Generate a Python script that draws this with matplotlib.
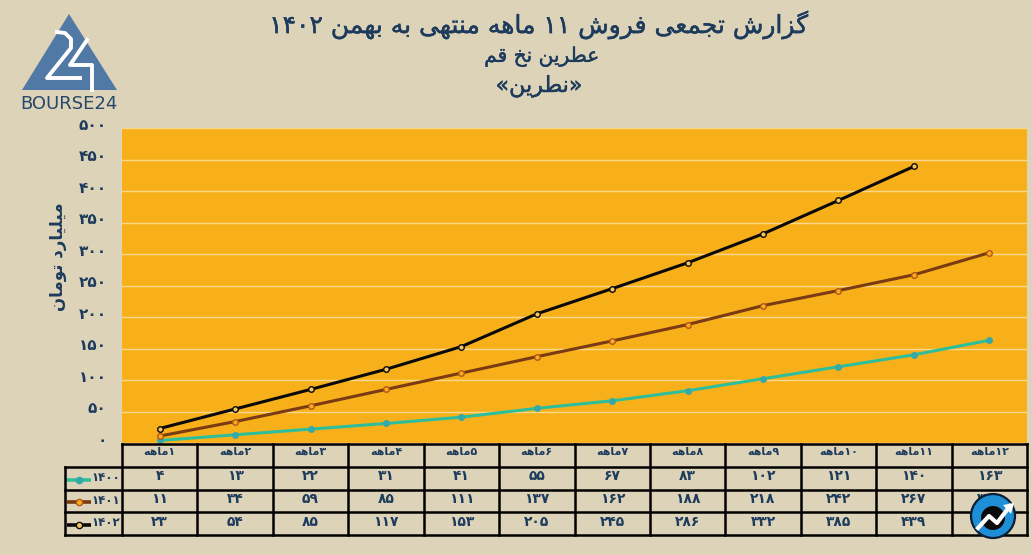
import matplotlib

matplotlib.use('Agg')
import matplotlib.pyplot as plt
import matplotlib.patheffects as pe
from matplotlib.patches import Circle, Polygon
from matplotlib.transforms import ScaledTranslation

months = list(range(1, 13))
sales_1400 = [4, 13, 22, 31, 41, 55, 67, 83, 102, 121, 140, 163]
sales_1401 = [11, 34, 59, 85, 111, 137, 162, 188, 218, 242, 267, 302]
sales_1402 = [23, 54, 85, 117, 153, 205, 245, 286, 332, 385, 439]
y_ticks = [0, 50, 100, 150, 200, 250, 300, 350, 400, 450, 500]
series_names = ['1400', '1401', '1402']

title_text = 'گزارش تجمعی فروش ۱۱ ماهه منتهی به بهمن ۱۴۰۲'
sub_text = 'عطرین نخ قم'
name_text = '«نطرین»'
ylabel_text = 'میلیارد تومان'
month_word = 'ماهه'

BG = '#DDD3B8'
ORANGE = '#F8B01A'
NAVY = '#1D3B5C'

# matplotlib has no arabic shaping, so map letters to presentation forms
FORMS = {
    'ا': (0xFE8D, 0xFE8E), 'د': (0xFEA9, 0xFEAA), 'ر': (0xFEAD, 0xFEAE),
    'ز': (0xFEAF, 0xFEB0), 'و': (0xFEED, 0xFEEE),
    'ب': (0xFE8F, 0xFE90, 0xFE91, 0xFE92), 'ت': (0xFE95, 0xFE96, 0xFE97, 0xFE98),
    'ج': (0xFE9D, 0xFE9E, 0xFE9F, 0xFEA0), 'خ': (0xFEA5, 0xFEA6, 0xFEA7, 0xFEA8),
    'ش': (0xFEB5, 0xFEB6, 0xFEB7, 0xFEB8), 'ط': (0xFEC1, 0xFEC2, 0xFEC3, 0xFEC4),
    'ع': (0xFEC9, 0xFECA, 0xFECB, 0xFECC), 'ف': (0xFED1, 0xFED2, 0xFED3, 0xFED4),
    'ق': (0xFED5, 0xFED6, 0xFED7, 0xFED8), 'گ': (0xFB92, 0xFB93, 0xFB94, 0xFB95),
    'ل': (0xFEDD, 0xFEDE, 0xFEDF, 0xFEE0), 'م': (0xFEE1, 0xFEE2, 0xFEE3, 0xFEE4),
    'ن': (0xFEE5, 0xFEE6, 0xFEE7, 0xFEE8), 'ه': (0xFEE9, 0xFEEA, 0xFEEB, 0xFEEC),
    'ی': (0xFBFC, 0xFBFD, 0xFBFE, 0xFBFF),
}
DIGITS = '۰۱۲۳۴۵۶۷۸۹'


def fa_num(n):
    return ''.join(DIGITS[int(d)] for d in str(n))


def fa(text):
    """Join letters and put the string in visual order (digit runs stay LTR)."""
    out = []
    for i, ch in enumerate(text):
        if ch not in FORMS:
            out.append(ch)
            continue
        prev = text[i - 1] if i else ''
        nxt = text[i + 1] if i + 1 < len(text) else ''
        from_prev = prev in FORMS and len(FORMS[prev]) == 4
        to_next = nxt in FORMS and len(FORMS[ch]) == 4
        f = FORMS[ch]
        if from_prev and to_next:
            out.append(chr(f[3]))
        elif from_prev:
            out.append(chr(f[1]))
        elif to_next:
            out.append(chr(f[2]))
        else:
            out.append(chr(f[0]))
    res, run = [], []
    for ch in out:
        if ch in DIGITS:
            run.append(ch)
        else:
            res = run + res if run else res
            run = []
            res.insert(0, ch)
    return ''.join(run + res)


plt.rcParams['font.family'] = ['DejaVu Sans']
W, H = 1032, 555
fig = plt.figure(figsize=(W / 100, H / 100), dpi=100, facecolor=BG)


def px_axes(x0, y0, x1, y1):
    return fig.add_axes([x0 / W, 1 - y1 / H, (x1 - x0) / W, (y1 - y0) / H])


# main chart
ax = px_axes(122, 128, 1027, 443)
ax.set_facecolor(ORANGE)
ax.set_xlim(0.5, 12.5)
ax.set_ylim(0, 498)
ax.set_xticks([])
ax.set_yticks(y_ticks)
ax.set_yticklabels([fa_num(v) for v in y_ticks], fontsize=11, fontweight='bold', color=NAVY)
ax.tick_params(axis='y', length=0, pad=11)
for lab in ax.get_yticklabels():
    lab.set_transform(lab.get_transform() + ScaledTranslation(0, 3 / 72, fig.dpi_scale_trans))
ax.grid(axis='y', color='#FAD98F', lw=1)
ax.set_axisbelow(True)
for s in ax.spines.values():
    s.set_visible(False)

styles = [
    ('#2DBE9B', '#35A8A8', '#35A8A8'),
    ('#7A3A12', ORANGE, '#B5541A'),
    ('#0A0A0A', '#F4C55A', '#0A0A0A'),
]
for vals, (c, mf, me) in zip([sales_1400, sales_1401, sales_1402], styles):
    ax.plot(months[:len(vals)], vals, color=c, lw=2.2, marker='o', ms=4,
            mfc=mf, mec=me, mew=1, clip_on=False, solid_capstyle='round')

# table under the chart, first column holds the legend keys
row_edges = [443.5, 467, 490, 512, 535]
col_w = (1027 - 122) / 12
tb = px_axes(0, 0, W, H)
tb.set_xlim(0, W)
tb.set_ylim(H, 0)
tb.axis('off')
tb.patch.set_alpha(0)
for y in row_edges:
    tb.plot([122 if y == row_edges[0] else 65, 1027], [y, y], color='black', lw=1.8)
tb.plot([65, 65], [row_edges[1], row_edges[-1]], color='black', lw=1.8)
for i in range(13):
    x = 122 + i * col_w
    tb.plot([x, x], [row_edges[0], row_edges[-1]], color='black', lw=1.8)

rows = [sales_1400, sales_1401, sales_1402]
for i, m in enumerate(months):
    cx = 122 + (i + 0.5) * col_w
    tb.text(cx, 452, fa(fa_num(m) + month_word), ha='center', va='center',
            fontsize=8, fontweight='bold', color=NAVY)
    for r, vals in enumerate(rows):
        if i < len(vals):
            tb.text(cx, (row_edges[r + 1] + row_edges[r + 2]) / 2 - 2, fa_num(vals[i]),
                    ha='center', va='center', fontsize=10, fontweight='bold', color=NAVY)
for r, (name, (c, mf, me)) in enumerate(zip(series_names, styles)):
    ym = (row_edges[r + 1] + row_edges[r + 2]) / 2
    tb.plot([67, 91], [ym + 1, ym + 1], color=c, lw=2.6, solid_capstyle='butt')
    tb.plot([79], [ym + 1], 'o', ms=4.5, mfc=mf, mec=me, mew=1)
    tb.text(120, ym - 1, fa_num(name), ha='right', va='center', fontsize=8.5,
            fontweight='bold', color=NAVY)

# titles
heavy = [pe.withStroke(linewidth=0.3, foreground=NAVY)]
tb.text(539, 25, fa(title_text), ha='center', va='center', fontsize=18, color=NAVY,
        path_effects=heavy)
tb.text(542, 57, fa(sub_text), ha='center', va='center', fontsize=14.5, color=NAVY,
        path_effects=heavy)
tb.text(539, 86, fa(name_text).replace('«', '\0').replace('»', '«').replace('\0', '»'),
        ha='center', va='center', fontsize=16, color=NAVY, path_effects=heavy)
tb.text(58, 257, fa(ylabel_text), rotation=90, ha='center', va='center', fontsize=12,
        fontweight='bold', color=NAVY)

# bourse24 logo
tb.add_patch(Polygon([(69, 14), (22, 90), (117, 90)], closed=True, fc='#5079A6', ec='none'))
tb.plot([57, 65, 71, 71, 47, 80], [32, 33, 39, 48, 78, 78], color='white', lw=2.8)
tb.plot([87, 70, 92, 92], [40, 65, 65, 90], color='white', lw=2.8)
tb.text(69, 104, 'BOURSE24', ha='center', va='center', fontsize=13, color='#27476B')

# badge over the last table cells
tb.add_patch(Circle((993, 516), 22, fc='#1E8FD6', ec='#0B1E33', lw=1.6, zorder=5))
tb.add_patch(Circle((993, 518), 12, fc='#0A0A0A', ec='none', zorder=6))
tb.plot([978, 989, 997, 1010], [528, 516, 523, 506], color='white', lw=3, zorder=7)
tb.add_patch(Polygon([(1014, 503), (1003, 505), (1011, 514)], closed=True, fc='white', ec='none', zorder=7))

fig.savefig('out.png', dpi=100, facecolor=BG)
